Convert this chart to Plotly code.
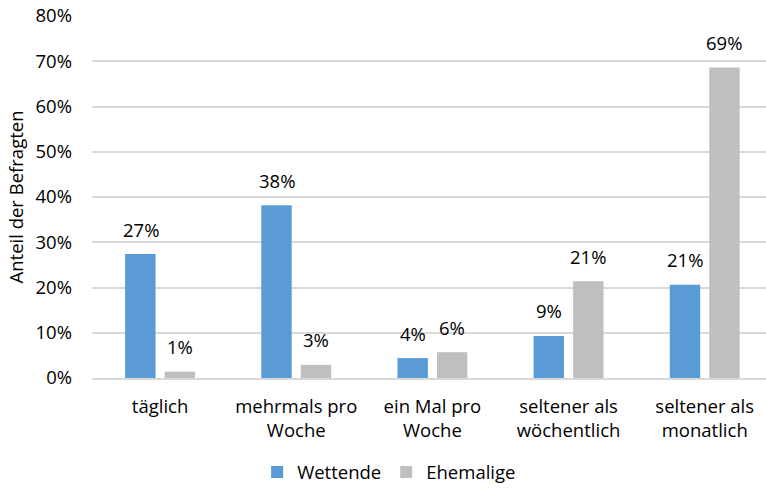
import plotly.graph_objects as go

categories = ["täglich", "mehrmals pro<br>Woche", "ein Mal pro<br>Woche",
              "seltener als<br>wöchentlich", "seltener als<br>monatlich"]
wettende = [27.4, 38.2, 4.4, 9.3, 20.6]
ehemalige = [1.4, 2.9, 5.7, 21.4, 68.6]
series_names = ["Wettende", "Ehemalige"]
colors = ["#5B9BD5", "#BFBFBF"]
y_ticks = [0, 10, 20, 30, 40, 50, 60, 70, 80]

FONT = "Open Sans"
FS = 18.5
fig = go.Figure()
for name, vals, col in zip(series_names, [wettende, ehemalige], colors):
    fig.add_trace(go.Bar(x=categories, y=vals, name=name, marker_color=col,
                         marker_line_width=0))

annotations = []
for vals, shift in [(wettende, -19.5), (ehemalige, 19.5)]:
    for c, v in zip(categories, vals):
        annotations.append(dict(x=c, y=v, text=f"{round(v)}%", showarrow=False,
                                xshift=shift, yshift=25, yanchor="middle",
                                font=dict(family=FONT, size=FS, color="#000")))

fig.update_layout(
    width=766, height=488,
    margin=dict(l=92, r=0, t=16, b=110),
    paper_bgcolor="white", plot_bgcolor="white",
    barmode="group", bargap=0.42, bargroupgap=0.23,
    font=dict(family=FONT, size=FS, color="#000"),
    annotations=annotations,
    legend=dict(orientation="h", x=0.245, y=0.032, yref="container",
                xanchor="left", yanchor="middle",
                font=dict(family=FONT, size=FS), itemwidth=30, traceorder="normal"),
    xaxis=dict(range=[-0.5, 4.45], showgrid=False, showline=True,
               linecolor="#D9D9D9", linewidth=1.5, ticks="", automargin=False,
               ticklabelstandoff=11,
               tickfont=dict(family=FONT, size=FS)),
    yaxis=dict(range=[0, 80], tickvals=y_ticks,
               ticktext=[f"{t}%" for t in y_ticks], automargin=False,
               showgrid=True, gridcolor="#D9D9D9", gridwidth=1.5,
               zeroline=False, ticklabelstandoff=19,
               tickfont=dict(family=FONT, size=FS),
               title=dict(text="Anteil der Befragten", standoff=7,
                          font=dict(family=FONT, size=FS))),
)
fig.write_html("out.html", config={"displayModeBar": False},
               post_script="document.body.style.margin='0';document.body.style.overflow='hidden';")
